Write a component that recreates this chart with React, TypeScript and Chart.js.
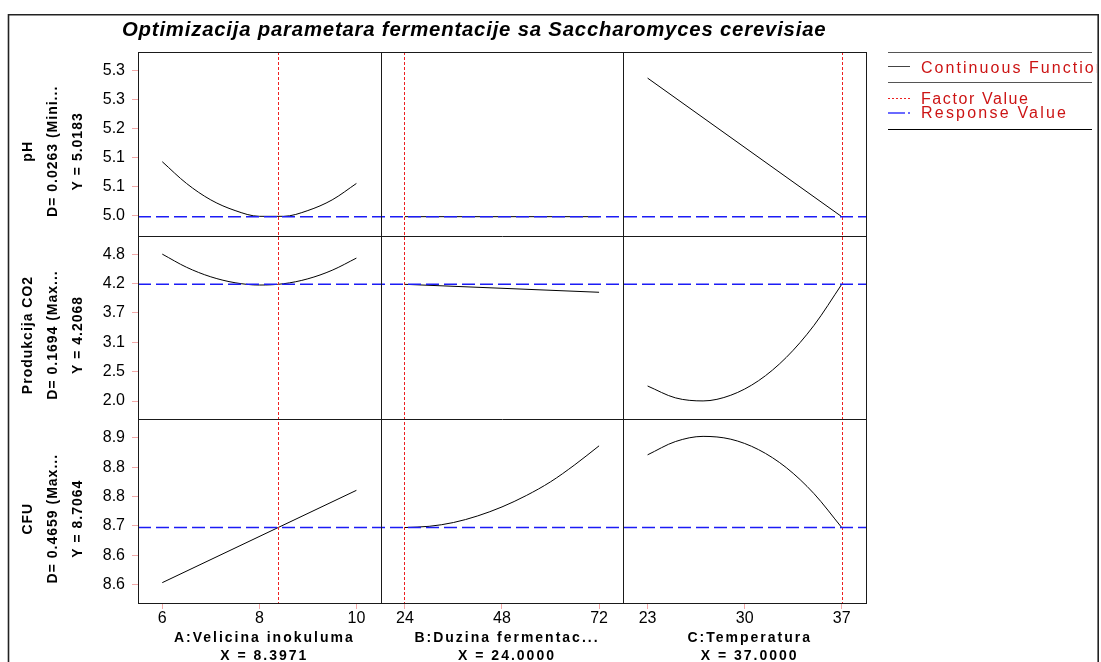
import React, { useEffect, useRef } from "react";
import { Chart, registerables } from "chart.js";

Chart.register(...registerables);

const FONT = "'Liberation Sans', Arial, sans-serif";

// ---------------- data ----------------
const TITLE = "Optimizacija parametara fermentacije sa Saccharomyces cerevisiae";

const FACTOR_NAMES = ["A:Velicina inokuluma", "B:Duzina fermentac...", "C:Temperatura"];
const FACTOR_VALUES = [8.3971, 24.0, 37.0];
const FACTOR_VALUE_TEXT = ["X = 8.3971", "X = 24.0000", "X = 37.0000"];
const A_TICKS = [6, 8, 10];
const B_TICKS = [24, 48, 72];
const C_TICKS = [23, 30, 37];

const RESPONSE_NAMES = ["pH", "Produkcija CO2", "CFU"];
const DESIRABILITY_TEXT = ["D= 0.0263 (Mini...", "D= 0.1694 (Max...", "D= 0.4659 (Max..."];
const RESPONSE_VALUES = [5.0183, 4.2068, 8.7064];
const RESPONSE_VALUE_TEXT = ["Y = 5.0183", "Y = 4.2068", "Y = 8.7064"];

const PH_TICKS = [5.02, 5.08, 5.14, 5.2, 5.26, 5.32];
const PH_TICK_LABELS = ["5.0", "5.1", "5.1", "5.2", "5.3", "5.3"];
const CO2_TICKS = [1.98, 2.54, 3.1, 3.66, 4.22, 4.78];
const CO2_TICK_LABELS = ["2.0", "2.5", "3.1", "3.7", "4.2", "4.8"];
const CFU_TICKS = [8.586, 8.648, 8.71, 8.772, 8.834, 8.896];
const CFU_TICK_LABELS = ["8.6", "8.6", "8.7", "8.8", "8.8", "8.9"];

// factor A (Velicina inokuluma)
const A_LEVELS = [6, 6.5, 7, 7.5, 8, 8.5, 9, 9.5, 10];
const PH_BY_A = [5.132, 5.087, 5.053, 5.031, 5.019, 5.019, 5.031, 5.053, 5.087];
const CO2_BY_A = [4.783, 4.532, 4.35, 4.237, 4.193, 4.218, 4.312, 4.475, 4.707];
const A_LEVELS_LIN = [6, 10];
const CFU_BY_A = [8.59, 8.785];

// factor B (Duzina fermentacije)
const B_LEVELS_LIN = [24, 48, 72];
const PH_BY_B = [5.0183, 5.0183, 5.0183];
const CO2_BY_B = [4.2068, 4.131, 4.055];
const B_LEVELS = [24, 30, 36, 42, 48, 54, 60, 66, 72];
const CFU_BY_B = [8.7064, 8.709, 8.717, 8.731, 8.75, 8.774, 8.803, 8.839, 8.879];

// factor C (Temperatura)
const C_LEVELS_LIN = [23, 37];
const PH_BY_C = [5.305, 5.0183];
const C_LEVELS = [23, 25, 27, 29, 31, 33, 35, 37];
const CO2_BY_C = [2.267, 2.041, 1.982, 2.091, 2.368, 2.812, 3.424, 4.2068];
const CFU_BY_C = [8.86, 8.888, 8.899, 8.893, 8.871, 8.833, 8.778, 8.7064];

const LEGEND_ITEMS = ["Continuous Function", "Factor Value", "Response Value"];

// ---------------- layout / styling ----------------
const X_LIMITS = [
  [5.5, 10.5],
  [18, 78],
  [21.25, 38.75],
];
const Y_LIMITS = [
  [4.979, 5.359],
  [1.631, 5.135],
  [8.547, 8.935],
];
const X_TICK_SETS = [A_TICKS, B_TICKS, C_TICKS];
const Y_TICK_SETS = [PH_TICKS, CO2_TICKS, CFU_TICKS];
const Y_TICK_LABEL_SETS = [PH_TICK_LABELS, CO2_TICK_LABELS, CFU_TICK_LABELS];

const CURVES = [
  { col: 0, row: 0, x: A_LEVELS, y: PH_BY_A },
  { col: 1, row: 0, x: B_LEVELS_LIN, y: PH_BY_B },
  { col: 2, row: 0, x: C_LEVELS_LIN, y: PH_BY_C },
  { col: 0, row: 1, x: A_LEVELS, y: CO2_BY_A },
  { col: 1, row: 1, x: B_LEVELS_LIN, y: CO2_BY_B },
  { col: 2, row: 1, x: C_LEVELS, y: CO2_BY_C },
  { col: 0, row: 2, x: A_LEVELS_LIN, y: CFU_BY_A },
  { col: 1, row: 2, x: B_LEVELS, y: CFU_BY_B },
  { col: 2, row: 2, x: C_LEVELS, y: CFU_BY_C },
];

const TICK_COLOR = "#f3a9a9";
const LEGEND_RED = "#cc1414";
const FACTOR_RED = "#ee2020";

// keep thin coloured lines on even pixel rows/columns so they stay coloured
const evenPx = (v: number) => Math.round(v / 2) * 2 + 0.5;

function drawSpaced(
  ctx: CanvasRenderingContext2D,
  text: string,
  x: number,
  y: number,
  o: { font: string; color: string; spacing?: number; width?: number; align?: "left" | "center"; baseline?: CanvasTextBaseline }
) {
  ctx.save();
  ctx.font = o.font;
  ctx.fillStyle = o.color;
  ctx.textAlign = "left";
  ctx.textBaseline = o.baseline || "alphabetic";
  (ctx as any).letterSpacing = "0px";
  const natural = ctx.measureText(text).width;
  let sp = o.spacing ?? 0;
  if (o.width != null) sp = (o.width - natural) / Math.max(1, text.length - 1);
  (ctx as any).letterSpacing = sp + "px";
  const w = natural + sp * (text.length - 1);
  const x0 = o.align === "center" ? x - w / 2 : x;
  ctx.fillText(text, x0, y);
  ctx.restore();
}

// size a font so that text (with a given letter spacing) spans a target width
function fitFontSize(ctx: CanvasRenderingContext2D, text: string, style: string, width: number, spacing: number) {
  ctx.save();
  ctx.font = `${style} 10px ${FONT}`;
  (ctx as any).letterSpacing = "0px";
  const w10 = ctx.measureText(text).width;
  ctx.restore();
  return ((width - spacing * (text.length - 1)) / w10) * 10;
}

const overlayPlugin = {
  id: "overlay",
  afterDatasetsDraw(chart: any) {
    const ctx: CanvasRenderingContext2D = chart.ctx;
    const ca = chart.chartArea;
    ctx.save();
    // factor value lines (red dotted)
    FACTOR_VALUES.forEach((v, c) => {
      const xs = chart.scales["x" + c];
      const px = evenPx(xs.getPixelForValue(v));
      ctx.strokeStyle = FACTOR_RED;
      ctx.lineWidth = 1;
      ctx.setLineDash([3, 2]);
      ctx.beginPath();
      ctx.moveTo(px, ca.top);
      ctx.lineTo(px, ca.bottom);
      ctx.stroke();
    });
    // response value lines (blue dashed)
    RESPONSE_VALUES.forEach((v, r) => {
      const ys = chart.scales["y" + r];
      const py = ys.getPixelForValue(v);
      ctx.strokeStyle = "#1c1cf5";
      ctx.lineWidth = 1.5;
      ctx.setLineDash([13, 5]);
      ctx.beginPath();
      ctx.moveTo(ca.left, py);
      ctx.lineTo(ca.right, py);
      ctx.stroke();
    });
    ctx.setLineDash([]);
    // panel frames
    ctx.strokeStyle = "#1a1a1a";
    ctx.lineWidth = 1;
    const L = Math.round(ca.left) + 0.5;
    const R = Math.round(ca.right) + 0.5;
    const T = Math.round(ca.top) + 0.5;
    const B = Math.round(ca.bottom) + 0.5;
    ctx.strokeRect(L, T, R - L, B - T);
    ctx.beginPath();
    for (let c = 0; c < 2; c++) {
      const xs = chart.scales["x" + c];
      const px = Math.round(xs.right) + 0.5;
      ctx.moveTo(px, T);
      ctx.lineTo(px, B);
    }
    for (let r = 0; r < 2; r++) {
      const ys = chart.scales["y" + r];
      const py = Math.round(ys.bottom) + 0.5;
      ctx.moveTo(L, py);
      ctx.lineTo(R, py);
    }
    ctx.stroke();
    ctx.restore();
  },
  afterDraw(chart: any) {
    const ctx: CanvasRenderingContext2D = chart.ctx;
    ctx.save();
    // outer frame
    ctx.strokeStyle = "#222";
    ctx.lineWidth = 1.6;
    ctx.beginPath();
    ctx.moveTo(8.5, 700);
    ctx.lineTo(8.5, 14.8);
    ctx.lineTo(1098.2, 14.8);
    ctx.lineTo(1098.2, 700);
    ctx.stroke();

    // title
    const titleSize = fitFontSize(ctx, TITLE, "italic bold", 704, 0.8);
    drawSpaced(ctx, TITLE, 122, 36, {
      font: `italic bold ${titleSize.toFixed(2)}px ${FONT}`,
      color: "#000",
      spacing: 0.8,
    });

    // x axis titles
    FACTOR_NAMES.forEach((name, c) => {
      const xs = chart.scales["x" + c];
      const cx = (xs.left + xs.right) / 2 + 4;
      drawSpaced(ctx, name, cx, 641.7, { font: `bold 14px ${FONT}`, color: "#000", spacing: 2, align: "center" });
      drawSpaced(ctx, FACTOR_VALUE_TEXT[c], cx, 659.5, {
        font: `bold 14px ${FONT}`,
        color: "#000",
        spacing: 2,
        align: "center",
      });
    });

    // y axis titles (rotated)
    RESPONSE_NAMES.forEach((name, r) => {
      const ys = chart.scales["y" + r];
      const cy = (ys.top + ys.bottom) / 2 + 8;
      const lines = [name, DESIRABILITY_TEXT[r], RESPONSE_VALUE_TEXT[r]];
      const xsPos = [28.5, 53, 78];
      lines.forEach((t, k) => {
        ctx.save();
        ctx.translate(xsPos[k], cy);
        ctx.rotate(-Math.PI / 2);
        drawSpaced(ctx, t, 0, 0, {
          font: `bold 14px ${FONT}`,
          color: "#000",
          spacing: 1,
          align: "center",
          baseline: "middle",
        });
        ctx.restore();
      });
    });

    // legend rules
    ctx.strokeStyle = "#555";
    ctx.lineWidth = 1;
    [52.5, 82.5].forEach((y) => {
      ctx.beginPath();
      ctx.moveTo(888, y);
      ctx.lineTo(1092, y);
      ctx.stroke();
    });
    ctx.strokeStyle = "#000";
    ctx.beginPath();
    ctx.moveTo(888, 129.5);
    ctx.lineTo(1092, 129.5);
    ctx.stroke();

    // sample: continuous function
    ctx.strokeStyle = "#444";
    ctx.beginPath();
    ctx.moveTo(888, 66.5);
    ctx.lineTo(910, 66.5);
    ctx.stroke();
    // sample: factor value
    ctx.strokeStyle = FACTOR_RED;
    ctx.setLineDash([2, 2]);
    ctx.beginPath();
    ctx.moveTo(888, 98.5);
    ctx.lineTo(910, 98.5);
    ctx.stroke();
    // sample: response value
    ctx.strokeStyle = "#6a6aff";
    ctx.lineWidth = 2;
    ctx.setLineDash([17, 3]);
    ctx.beginPath();
    ctx.moveTo(888, 113);
    ctx.lineTo(910, 113);
    ctx.stroke();
    ctx.setLineDash([]);

    ctx.save();
    ctx.beginPath();
    ctx.rect(880, 40, 217, 100);
    ctx.clip();
    drawSpaced(ctx, LEGEND_ITEMS[0], 921, 72.5, { font: `16px ${FONT}`, color: LEGEND_RED, spacing: 2.05 });
    drawSpaced(ctx, LEGEND_ITEMS[1], 921, 103.5, { font: `16px ${FONT}`, color: LEGEND_RED, width: 107 });
    drawSpaced(ctx, LEGEND_ITEMS[2], 921, 118, { font: `16px ${FONT}`, color: LEGEND_RED, width: 145 });
    ctx.restore();

    ctx.restore();
  },
};

function makeConfig(): any {
  const scales: any = {};
  X_LIMITS.forEach((lim, c) => {
    const tickVals = X_TICK_SETS[c];
    scales["x" + c] = {
      type: "linear",
      position: "bottom",
      stack: "factors",
      stackWeight: 1,
      weight: c,
      min: lim[0],
      max: lim[1],
      afterBuildTicks: (axis: any) => {
        axis.ticks = tickVals.map((v) => ({ value: v }));
      },
      afterFit: (axis: any) => {
        axis.height = 59;
      },
      grid: { display: true, drawOnChartArea: false, drawTicks: true, tickLength: 6, color: TICK_COLOR },
      border: { display: false },
      ticks: {
        autoSkip: false,
        maxRotation: 0,
        padding: 0,
        color: "#000",
        font: { family: FONT, size: 16 },
        callback: (v: any) => String(v),
      },
    };
  });
  Y_LIMITS.forEach((lim, r) => {
    const tickVals = Y_TICK_SETS[r];
    const tickLabels = Y_TICK_LABEL_SETS[r];
    scales["y" + r] = {
      type: "linear",
      position: "left",
      stack: "responses",
      stackWeight: 1,
      weight: 3 - r,
      min: lim[0],
      max: lim[1],
      afterBuildTicks: (axis: any) => {
        axis.ticks = tickVals.map((v) => ({ value: v }));
      },
      afterFit: (axis: any) => {
        axis.width = 128;
      },
      grid: { display: true, drawOnChartArea: false, drawTicks: true, tickLength: 6, color: TICK_COLOR },
      border: { display: false },
      ticks: {
        autoSkip: false,
        padding: 7,
        color: "#000",
        font: { family: FONT, size: 16 },
        callback: (_v: any, i: number) => tickLabels[i],
      },
    };
  });

  const datasets = CURVES.map((cv) => ({
    type: "line",
    data: cv.x.map((x, i) => ({ x, y: cv.y[i] })),
    xAxisID: "x" + cv.col,
    yAxisID: "y" + cv.row,
    borderColor: "#000",
    borderWidth: 1,
    pointRadius: 0,
    fill: false,
    cubicInterpolationMode: "monotone",
  }));

  return {
    type: "line",
    data: { datasets },
    options: {
      responsive: false,
      animation: false,
      events: [],
      devicePixelRatio: 1,
      layout: { padding: { left: 10, top: 52, right: 235, bottom: 0 } },
      plugins: { legend: { display: false }, tooltip: { enabled: false }, title: { display: false } },
      scales,
    },
    plugins: [overlayPlugin],
  };
}

export default function App() {
  const ref = useRef<HTMLCanvasElement | null>(null);
  useEffect(() => {
    if (!ref.current) return;
    const chart = new Chart(ref.current, makeConfig());
    return () => chart.destroy();
  }, []);
  return (
    <canvas
      ref={ref}
      width={1101}
      height={662}
      style={{ position: "fixed", left: 0, top: 0, width: 1101, height: 662, background: "#fff", display: "block" }}
    />
  );
}
